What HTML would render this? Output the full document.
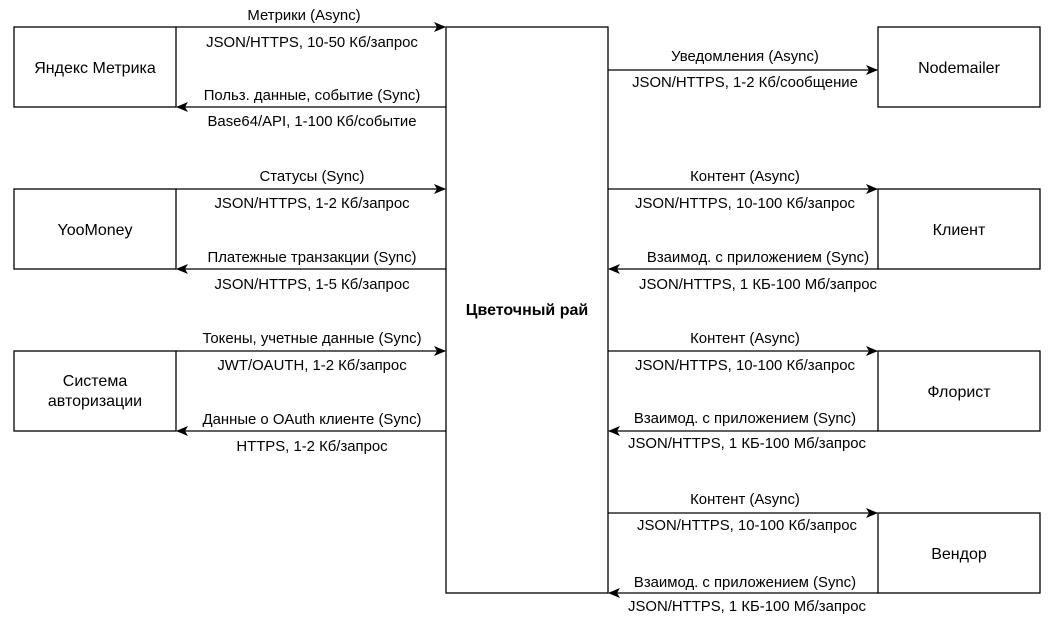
<!DOCTYPE html>
<html><head><meta charset="utf-8"><style>
html,body{margin:0;padding:0;background:#fff;}
svg{display:block;}
text{font-family:"Liberation Sans",Arial,sans-serif;font-size:14.9px;fill:#000;}
text.b{font-size:16px;}
</style></head><body>
<svg width="1055" height="620" viewBox="0 0 1055 620">
<defs><marker id="a" markerWidth="12" markerHeight="10" refX="11" refY="5" orient="auto" markerUnits="userSpaceOnUse"><path d="M0,0 L12,5 L0,10 L3,5 Z" fill="#000"/></marker></defs>
<g fill="#fff" stroke="#000" stroke-width="1.3">
<rect x="14" y="27" width="162" height="80"/>
<rect x="14" y="189" width="162" height="80"/>
<rect x="14" y="351" width="162" height="80"/>
<rect x="446" y="27" width="162" height="566"/>
<rect x="878" y="27" width="162" height="80"/>
<rect x="878" y="189" width="162" height="80"/>
<rect x="878" y="351" width="162" height="80"/>
<rect x="878" y="513" width="162" height="80"/>
</g>
<g stroke="#000" stroke-width="1.3" marker-end="url(#a)">
<line x1="176" y1="27" x2="445" y2="27"/>
<line x1="446" y1="107" x2="177" y2="107"/>
<line x1="176" y1="189" x2="445" y2="189"/>
<line x1="446" y1="269" x2="177" y2="269"/>
<line x1="176" y1="351" x2="445" y2="351"/>
<line x1="446" y1="431" x2="177" y2="431"/>
<line x1="608" y1="70" x2="877" y2="70"/>
<line x1="608" y1="189" x2="877" y2="189"/>
<line x1="878" y1="269" x2="609" y2="269"/>
<line x1="608" y1="351" x2="877" y2="351"/>
<line x1="878" y1="431" x2="609" y2="431"/>
<line x1="608" y1="513" x2="877" y2="513"/>
<line x1="878" y1="593" x2="609" y2="593"/>
</g>
<g text-anchor="middle">
<text class="b" x="95" y="73">Яндекс Метрика</text>
<text class="b" x="95" y="235">YooMoney</text>
<text class="b" x="95" y="386">Система</text>
<text class="b" x="95" y="406">авторизации</text>
<text class="b" x="527" y="315" font-weight="bold">Цветочный рай</text>
<text class="b" x="959" y="73">Nodemailer</text>
<text class="b" x="959" y="235">Клиент</text>
<text class="b" x="959" y="397">Флорист</text>
<text class="b" x="959" y="559">Вендор</text>

<text x="304" y="20">Метрики (Async)</text>
<text x="312" y="47">JSON/HTTPS, 10-50 Кб/запрос</text>
<text x="312" y="100">Польз. данные, событие (Sync)</text>
<text x="312" y="126">Base64/API, 1-100 Кб/событие</text>
<text x="312" y="181">Статусы (Sync)</text>
<text x="312" y="208">JSON/HTTPS, 1-2 Кб/запрос</text>
<text x="312" y="262">Платежные транзакции (Sync)</text>
<text x="312" y="289">JSON/HTTPS, 1-5 Кб/запрос</text>
<text x="312" y="343">Токены, учетные данные (Sync)</text>
<text x="312" y="370">JWT/OAUTH, 1-2 Кб/запрос</text>
<text x="312" y="424">Данные о OAuth клиенте (Sync)</text>
<text x="312" y="451">HTTPS, 1-2 Кб/запрос</text>

<text x="745" y="61">Уведомления (Async)</text>
<text x="745" y="87">JSON/HTTPS, 1-2 Кб/сообщение</text>
<text x="745" y="181">Контент (Async)</text>
<text x="745" y="208">JSON/HTTPS, 10-100 Кб/запрос</text>
<text x="758" y="262">Взаимод. с приложением (Sync)</text>
<text x="758" y="289">JSON/HTTPS, 1 КБ-100 Мб/запрос</text>
<text x="745" y="343">Контент (Async)</text>
<text x="745" y="370">JSON/HTTPS, 10-100 Кб/запрос</text>
<text x="745" y="423">Взаимод. с приложением (Sync)</text>
<text x="747" y="448">JSON/HTTPS, 1 КБ-100 Мб/запрос</text>
<text x="745" y="504">Контент (Async)</text>
<text x="747" y="530">JSON/HTTPS, 10-100 Кб/запрос</text>
<text x="745" y="587">Взаимод. с приложением (Sync)</text>
<text x="747" y="611">JSON/HTTPS, 1 КБ-100 Мб/запрос</text>
</g>
</svg>
</body></html>
